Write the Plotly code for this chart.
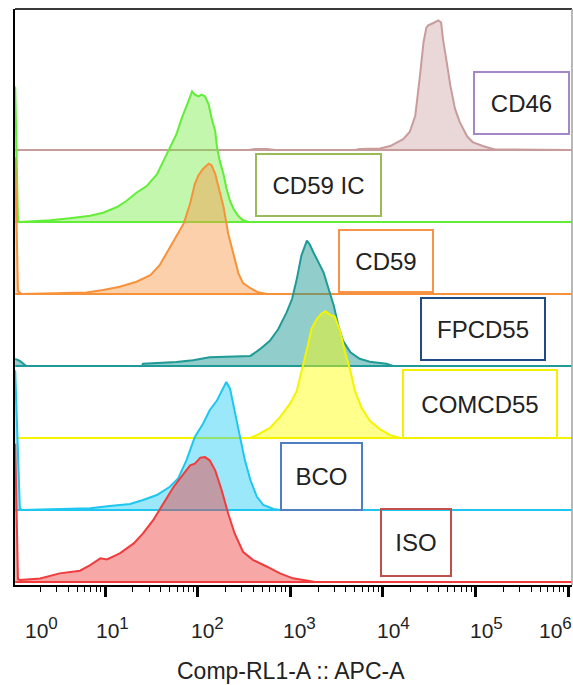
import plotly.graph_objects as go

# ---------------- data ----------------
# x positions are log10(Comp-RL1-A :: APC-A); heights are in units where one
# histogram offset step = 100
cd46_x = [0.03, 2.55, 2.62, 2.75, 2.84, 3.70, 3.75, 3.97, 4.08, 4.22, 4.29, 4.35, 4.40, 4.44,
          4.47, 4.49, 4.54, 4.60, 4.63, 4.65, 4.69, 4.73, 4.78, 4.83, 4.91, 4.97, 5.08, 5.14,
          5.21, 6.04]
cd46_y = [0, 0, 1.4, 1.4, 0, 0, 1.4, 2, 5.5, 15, 25, 47, 102, 150,
          170, 173, 176, 180, 177, 154, 122, 89, 57, 39, 19, 11, 5.5, 3,
          0.7, 0]

cd59ic_x = [0.03, 0.06, 0.08, 0.41, 0.62, 0.84, 0.98, 1.13, 1.23, 1.34, 1.45, 1.56, 1.63, 1.70,
            1.77, 1.83, 1.86, 1.90, 1.94, 1.97, 2.01, 2.04, 2.08, 2.12, 2.15, 2.19, 2.21, 2.24,
            2.28, 2.31, 2.35, 2.39, 2.44, 2.49, 2.55, 6.04]
cd59ic_y = [188, 2, 0, 2.4, 5.1, 8.7, 12.9, 20.8, 29.1, 40.6, 49.9, 66.1, 84.5, 102.9,
            121.5, 144.5, 153.7, 167.6, 181.4, 176.9, 174.5, 176.9, 174.5, 163, 144.5, 126, 102.9, 84.5,
            66.1, 47.5, 29.1, 17.6, 8.3, 2.4, 0, 0]

cd59_x = [0.03, 0.06, 0.10, 0.80, 0.98, 1.16, 1.34, 1.49, 1.59, 1.70, 1.77, 1.85, 1.92, 1.97,
          2.01, 2.06, 2.12, 2.15, 2.19, 2.22, 2.28, 2.33, 2.39, 2.44, 2.49, 2.57, 2.66, 2.75, 6.04]
cd59_y = [190, 4, 0, 2, 5.5, 10, 17, 26, 40, 65, 79, 98, 126, 153,
          165, 174, 181, 179, 167, 153, 121, 84, 52, 29, 15, 8, 2, 0, 0]

fpcd55_x = [0.03, 0.08, 0.15, 1.40, 1.41, 1.77, 1.95, 2.13, 2.57, 2.67, 2.78, 2.87, 2.96, 3.02,
            3.07, 3.12, 3.18, 3.21, 3.25, 3.30, 3.36, 3.41, 3.47, 3.52, 3.57, 3.65, 3.75, 3.86,
            4.04, 4.11, 6.04]
fpcd55_y = [10, 7, 0, 0, 3, 5.5, 8, 12, 14, 23, 35, 51, 74, 93,
            120, 153, 174, 169, 158, 146, 130, 109, 84, 56, 35, 19, 10, 6,
            3, 0, 0]

comcd55_x = [0.05, 2.57, 2.67, 2.78, 2.89, 3.00, 3.07, 3.14, 3.20, 3.23, 3.29, 3.34, 3.38, 3.43,
             3.48, 3.54, 3.59, 3.65, 3.70, 3.77, 3.86, 3.97, 4.08, 4.19, 6.04]
comcd55_y = [0, 0, 6, 14, 29, 48, 65, 100, 134, 152, 166, 173, 176, 171,
             169, 148, 120, 93, 65, 42, 24, 12, 4, 0, 0]

bco_x = [0.03, 0.08, 0.10, 0.84, 1.05, 1.27, 1.41, 1.56, 1.70, 1.79, 1.88, 1.97, 2.06, 2.13,
         2.21, 2.26, 2.31, 2.35, 2.40, 2.46, 2.51, 2.57, 2.64, 2.71, 2.82, 2.89, 6.04]
bco_y = [194, 3, 0, 2.4, 5.5, 8.3, 13.9, 20.8, 32.3, 43.9, 69.3, 101.5, 120.1, 138.5,
         152.4, 166.2, 177.7, 168.5, 138.5, 101.5, 69.3, 41.6, 18.4, 6.9, 1.4, 0, 0]

iso_x = [0.03, 0.06, 0.08, 0.30, 0.51, 0.73, 0.84, 0.95, 1.02, 1.16, 1.31, 1.41, 1.52, 1.63,
         1.74, 1.85, 1.92, 1.97, 2.03, 2.08, 2.13, 2.19, 2.26, 2.33, 2.40, 2.49, 2.60, 2.75,
         2.89, 3.03, 3.14, 3.27, 6.04]
iso_y = [192, 4, 2.8, 5, 12, 15.7, 23.5, 32.8, 31.4, 39.7, 53.6, 67.4, 85.9, 109,
         132, 150.5, 162, 164.4, 172.7, 173.5, 169, 155, 127.4, 95.1, 67.4, 42, 30.5, 21.2,
         12, 5.1, 2.8, 0, 0]

sample_names = ["CD46", "CD59 IC", "CD59", "FPCD55", "COMCD55", "BCO", "ISO"]
sample_offsets = [600, 500, 400, 300, 200, 100, 0]
decade_exponents = [0, 1, 2, 3, 4, 5, 6]
tick_labels = ["10<sup><span style='font-size:17px'>%d</span></sup>" % e for e in decade_exponents]
x_title = "Comp-RL1-A :: APC-A"

# ---------------- styles ----------------
curves = [cd46_x, cd59ic_x, cd59_x, fpcd55_x, comcd55_x, bco_x, iso_x]
heights = [cd46_y, cd59ic_y, cd59_y, fpcd55_y, comcd55_y, bco_y, iso_y]
line_colors = ["#c99c9c", "#62ee38", "#f7923a", "#1f9a96", "#f4f400", "#1ec6f0", "#f03c3c"]
fill_colors = ["rgba(200,150,150,0.38)", "rgba(110,235,60,0.42)", "rgba(250,150,70,0.45)",
               "rgba(25,150,145,0.48)", "rgba(255,255,0,0.45)", "rgba(30,205,245,0.45)",
               "rgba(240,60,60,0.45)"]
box_colors = ["#a387c6", "#9bbb59", "#f7944a", "#1f4a86", "#f2f200", "#4f7fc0", "#c0504d"]
# label boxes: (x center log10, y center data, width px, height px)
box_layout = [(5.498, 665.3, 97, 64), (3.306, 551.4, 127, 64), (4.034, 445.8, 96, 64),
              (5.082, 351.4, 126, 64), (5.050, 247.2, 156, 70), (3.338, 146.5, 83, 69),
              (4.358, 54.9, 72, 69)]
tick_label_shift = [29, 7, 10, 9, 11, 11, -13]
X_RANGE = [0.028, 6.043]

FONT = "Liberation Sans, Arial, sans-serif"

fig = go.Figure()
for xs, hs, off, lc, fc in zip(curves, heights, sample_offsets, line_colors, fill_colors):
    X = [10 ** v for v in xs] + [10 ** xs[-1], 10 ** xs[0]]
    Y = [off + h for h in hs] + [off, off]
    fig.add_trace(go.Scatter(x=X, y=Y, mode="lines", fill="toself", fillcolor=fc,
                             line=dict(color=lc, width=2), hoverinfo="skip",
                             showlegend=False))

annotations = []
for name, (bx, by, bw, bh), bc in zip(sample_names, box_layout, box_colors):
    annotations.append(dict(x=bx, y=by, xref="x", yref="y", text=name, showarrow=False,
                            width=bw - 4, height=bh - 4, borderpad=0, borderwidth=2,
                            bordercolor=bc, bgcolor="rgba(0,0,0,0)",
                            font=dict(family=FONT, size=24, color="#222222")))

plot_h = 576
for e, lab, sh in zip(decade_exponents, tick_labels, tick_label_shift):
    px = (e - X_RANGE[0]) / (X_RANGE[1] - X_RANGE[0])
    annotations.append(dict(x=px, y=(585 - 628) / plot_h, xref="paper", yref="paper", text=lab,
                            showarrow=False, xshift=sh, xanchor="center", yanchor="middle",
                            font=dict(family=FONT, size=21, color="#222222")))

annotations.append(dict(x=(290.5 - 15) / 557, y=(585 - 671) / plot_h, xref="paper", yref="paper",
                        text=x_title, showarrow=False, xanchor="center", yanchor="middle",
                        font=dict(family=FONT, size=23, color="#222222")))

fig.update_layout(
    width=573, height=685,
    margin=dict(l=15, r=1, t=9, b=100),
    paper_bgcolor="white", plot_bgcolor="white",
    annotations=annotations,
    shapes=[
        dict(type="line", xref="paper", yref="paper", x0=0, x1=1, y0=1, y1=1,
             line=dict(color="#3a3a3a", width=2)),
        dict(type="line", xref="paper", yref="paper", x0=1, x1=1, y0=0, y1=1,
             line=dict(color="#a0a0a0", width=1.5)),
    ],
    xaxis=dict(type="log", range=X_RANGE, showgrid=False, zeroline=False,
               showline=True, linecolor="black", linewidth=2,
               tickvals=[10 ** e for e in decade_exponents], ticks="outside",
               ticklen=10, tickwidth=3, tickcolor="black", showticklabels=False,
               minor=dict(ticks="outside", ticklen=5, tickwidth=1, tickcolor="black",
                          dtick="D1", showgrid=False)),
    yaxis=dict(range=[-4.17, 795.8], showgrid=False, zeroline=False, showline=True,
               linecolor="black", linewidth=2, showticklabels=False, ticks=""),
)

fig.write_html("out.html", config={"displayModeBar": False},
               post_script="document.body.style.margin='0';document.body.style.overflow='hidden';")
